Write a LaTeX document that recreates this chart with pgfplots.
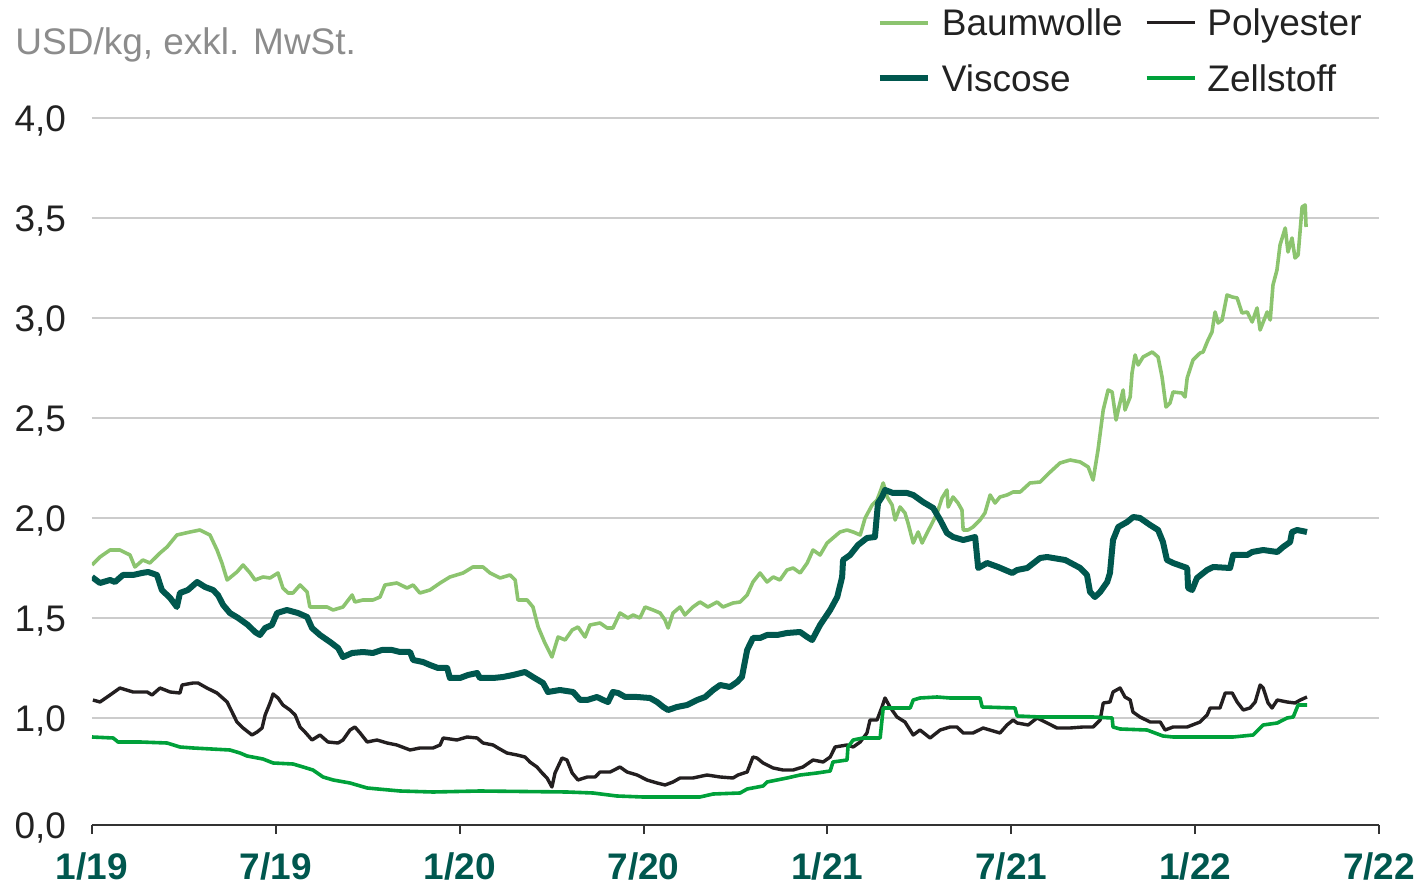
\documentclass[border=0pt]{standalone}
\usepackage{pgfplots}
\pgfplotsset{compat=1.18}
\usepackage{fontspec}
\setmainfont{Liberation Sans}
\usetikzlibrary{calc}
\definecolor{baum}{HTML}{8CC46F}
\definecolor{visc}{HTML}{00574E}
\definecolor{poly}{HTML}{231F20}
\definecolor{zell}{HTML}{00A13A}
\definecolor{gridgray}{HTML}{CCCCCC}
\definecolor{axgray}{HTML}{333333}
\definecolor{titlegray}{HTML}{8C8C8C}
\definecolor{labgray}{HTML}{222222}

\pgfplotstableread{
x y
0 1.765
0.26 1.805
0.59 1.84
0.91 1.84
1.24 1.815
1.40 1.755
1.66 1.79
1.89 1.775
2.22 1.825
2.45 1.855
2.77 1.915
3.20 1.93
3.52 1.94
3.85 1.915
4.08 1.84
4.24 1.775
4.41 1.69
4.73 1.73
4.93 1.765
5.16 1.725
5.32 1.69
5.58 1.705
5.81 1.70
6.07 1.725
6.23 1.65
6.40 1.625
6.56 1.625
6.79 1.665
7.02 1.63
7.11 1.555
7.44 1.555
7.67 1.555
7.87 1.54
8.19 1.555
8.49 1.615
8.58 1.58
8.84 1.59
9.17 1.59
9.40 1.605
9.56 1.665
9.95 1.675
10.28 1.65
10.48 1.665
10.70 1.625
11.03 1.64
11.36 1.675
11.68 1.705
12.11 1.725
12.43 1.755
12.76 1.755
12.99 1.725
13.32 1.70
13.64 1.715
13.81 1.69
13.90 1.59
14.20 1.59
14.39 1.555
14.56 1.455
14.78 1.375
15.01 1.305
15.21 1.405
15.44 1.39
15.67 1.44
15.86 1.455
16.09 1.405
16.25 1.465
16.58 1.475
16.81 1.45
17.00 1.45
17.23 1.525
17.49 1.50
17.66 1.515
17.88 1.50
18.05 1.555
18.31 1.54
18.54 1.525
18.70 1.49
18.80 1.45
18.96 1.525
19.19 1.555
19.35 1.515
19.61 1.555
19.84 1.58
20.10 1.555
20.40 1.58
20.59 1.555
20.92 1.575
21.15 1.58
21.38 1.615
21.57 1.68
21.80 1.725
22.03 1.68
22.23 1.705
22.45 1.69
22.68 1.74
22.88 1.75
23.11 1.725
23.34 1.775
23.53 1.84
23.76 1.815
23.99 1.875
24.18 1.90
24.41 1.93
24.64 1.94
24.84 1.93
25.07 1.915
25.23 2.00
25.46 2.065
25.62 2.09
25.72 2.13
25.82 2.175
25.95 2.105
26.11 2.065
26.21 1.99
26.37 2.055
26.53 2.025
26.63 1.975
26.80 1.875
26.96 1.93
27.09 1.875
27.25 1.925
27.42 1.975
27.58 2.025
27.74 2.10
27.90 2.14
27.94 2.055
28.10 2.105
28.26 2.075
28.39 2.04
28.43 1.94
28.59 1.94
28.75 1.955
28.98 1.99
29.14 2.025
29.31 2.115
29.47 2.075
29.63 2.105
29.86 2.115
30.06 2.13
30.29 2.13
30.61 2.175
30.94 2.18
31.27 2.23
31.59 2.275
31.92 2.29
32.25 2.28
32.51 2.255
32.67 2.19
32.83 2.34
33.00 2.54
33.16 2.64
33.29 2.63
33.42 2.49
33.49 2.54
33.65 2.64
33.71 2.54
33.88 2.605
33.94 2.725
34.04 2.815
34.14 2.765
34.30 2.805
34.60 2.83
34.79 2.805
34.92 2.705
35.05 2.555
35.18 2.575
35.28 2.63
35.57 2.625
35.67 2.605
35.74 2.70
35.93 2.79
36.16 2.825
36.26 2.83
36.42 2.89
36.55 2.93
36.65 3.03
36.75 2.975
36.88 2.99
37.04 3.115
37.21 3.105
37.37 3.10
37.53 3.025
37.70 3.03
37.86 2.98
38.02 3.05
38.12 2.94
38.35 3.03
38.45 2.99
38.54 3.165
38.67 3.24
38.77 3.365
38.94 3.45
39.03 3.33
39.16 3.40
39.26 3.30
39.36 3.315
39.49 3.555
39.59 3.565
39.62 3.455
}\baumwolle

\pgfplotstableread{
x y
0 1.705
0.26 1.675
0.59 1.69
0.75 1.68
1.01 1.715
1.34 1.715
1.63 1.725
1.83 1.73
2.12 1.715
2.28 1.64
2.55 1.60
2.77 1.555
2.87 1.625
3.13 1.64
3.43 1.68
3.69 1.655
3.95 1.64
4.11 1.615
4.28 1.565
4.50 1.525
4.77 1.50
5.09 1.465
5.32 1.43
5.48 1.415
5.65 1.45
5.87 1.465
6.04 1.525
6.36 1.54
6.72 1.525
7.02 1.505
7.18 1.45
7.44 1.415
7.77 1.38
8.03 1.35
8.19 1.305
8.49 1.325
8.84 1.33
9.17 1.325
9.46 1.34
9.79 1.34
10.05 1.33
10.38 1.33
10.48 1.29
10.80 1.28
11.03 1.265
11.29 1.25
11.59 1.25
11.68 1.20
12.01 1.20
12.27 1.215
12.57 1.225
12.66 1.20
13.09 1.20
13.41 1.205
13.74 1.215
14.13 1.23
14.39 1.205
14.72 1.175
14.88 1.13
15.27 1.14
15.70 1.13
15.93 1.09
16.16 1.09
16.48 1.105
16.68 1.09
16.84 1.08
17.00 1.13
17.17 1.125
17.40 1.105
17.79 1.105
18.21 1.10
18.44 1.08
18.64 1.055
18.80 1.04
19.09 1.055
19.42 1.065
19.75 1.09
20.01 1.105
20.27 1.14
20.50 1.165
20.82 1.155
21.05 1.18
21.21 1.205
21.38 1.34
21.57 1.40
21.80 1.40
22.03 1.415
22.36 1.415
22.68 1.425
23.11 1.43
23.34 1.405
23.50 1.39
23.76 1.465
24.09 1.54
24.32 1.605
24.48 1.705
24.51 1.79
24.74 1.815
25.00 1.865
25.29 1.90
25.55 1.905
25.65 2.075
25.78 2.105
25.88 2.14
26.14 2.125
26.60 2.125
26.80 2.115
27.12 2.08
27.45 2.05
27.68 1.99
27.90 1.925
28.10 1.905
28.43 1.89
28.82 1.905
28.92 1.75
29.21 1.775
29.57 1.755
30.03 1.725
30.19 1.74
30.52 1.75
30.94 1.80
31.17 1.805
31.76 1.79
32.25 1.75
32.47 1.715
32.57 1.63
32.73 1.605
32.90 1.63
33.13 1.68
33.22 1.725
33.32 1.89
33.49 1.955
33.78 1.98
33.98 2.005
34.20 2.00
34.53 1.965
34.79 1.94
34.95 1.88
35.08 1.79
35.28 1.775
35.74 1.75
35.77 1.65
35.90 1.64
36.06 1.70
36.39 1.74
36.59 1.755
37.14 1.75
37.24 1.815
37.70 1.815
37.86 1.83
38.22 1.84
38.68 1.83
38.87 1.855
39.10 1.88
39.16 1.93
39.33 1.94
39.65 1.93
}\viscose

\pgfplotstableread{
x y
0.03 1.09
0.26 1.08
0.59 1.115
0.91 1.15
1.34 1.13
1.80 1.13
1.96 1.115
2.22 1.15
2.55 1.13
2.87 1.125
2.94 1.165
3.30 1.175
3.46 1.175
3.75 1.15
4.08 1.125
4.41 1.08
4.57 1.03
4.73 0.98
4.93 0.95
5.22 0.915
5.39 0.93
5.55 0.95
5.65 1.015
5.81 1.075
5.91 1.12
6.07 1.10
6.23 1.065
6.46 1.04
6.63 1.015
6.79 0.955
6.95 0.93
7.18 0.89
7.44 0.915
7.70 0.88
8.03 0.875
8.19 0.89
8.42 0.94
8.58 0.955
8.75 0.925
8.98 0.88
9.30 0.89
9.63 0.875
9.95 0.865
10.38 0.84
10.70 0.85
11.13 0.85
11.36 0.865
11.46 0.90
11.91 0.89
12.24 0.905
12.57 0.90
12.76 0.875
13.09 0.865
13.25 0.85
13.54 0.825
13.87 0.815
14.13 0.805
14.29 0.78
14.52 0.755
14.69 0.725
14.85 0.70
15.01 0.655
15.11 0.725
15.34 0.80
15.50 0.79
15.67 0.725
15.86 0.69
16.16 0.705
16.42 0.705
16.58 0.73
16.91 0.73
17.23 0.755
17.46 0.73
17.79 0.715
18.11 0.69
18.44 0.675
18.70 0.665
18.96 0.68
19.19 0.70
19.61 0.70
20.07 0.715
20.50 0.705
20.92 0.70
21.08 0.715
21.38 0.73
21.57 0.805
21.70 0.80
21.90 0.775
22.23 0.75
22.55 0.74
22.88 0.74
23.20 0.755
23.53 0.79
23.86 0.78
24.09 0.805
24.25 0.855
24.64 0.865
24.84 0.855
25.07 0.88
25.29 0.925
25.39 0.99
25.62 0.99
25.78 1.055
25.88 1.10
26.04 1.055
26.27 1.005
26.53 0.98
26.80 0.915
27.02 0.94
27.35 0.90
27.68 0.94
28.00 0.955
28.23 0.955
28.43 0.925
28.75 0.925
29.08 0.95
29.63 0.925
29.86 0.965
30.06 0.99
30.19 0.975
30.55 0.965
30.84 1.00
31.17 0.975
31.49 0.95
31.92 0.95
32.34 0.955
32.67 0.955
32.90 0.99
33.00 1.075
33.22 1.08
33.32 1.13
33.55 1.15
33.71 1.105
33.88 1.09
33.97 1.03
34.20 1.005
34.53 0.98
34.86 0.98
35.02 0.94
35.28 0.955
35.74 0.955
36.16 0.98
36.39 1.015
36.49 1.05
36.81 1.05
36.98 1.125
37.21 1.125
37.37 1.08
37.57 1.04
37.79 1.05
37.96 1.08
38.12 1.165
38.22 1.15
38.38 1.075
38.51 1.05
38.68 1.09
39.00 1.08
39.26 1.075
39.43 1.09
39.65 1.105
}\polyester

\pgfplotstableread{
x y
0 0.905
0.69 0.90
0.85 0.88
1.57 0.88
2.45 0.875
2.87 0.855
3.30 0.85
4.50 0.84
4.83 0.825
5.06 0.81
5.58 0.795
5.91 0.775
6.56 0.77
6.89 0.755
7.21 0.74
7.54 0.705
7.87 0.69
8.42 0.675
8.98 0.65
10.05 0.635
11.13 0.63
12.66 0.635
15.50 0.63
16.35 0.625
17.13 0.61
17.98 0.605
19.84 0.605
20.27 0.62
21.15 0.625
21.38 0.645
21.90 0.66
22.03 0.68
22.68 0.70
23.11 0.715
23.66 0.725
24.09 0.735
24.18 0.78
24.64 0.79
24.67 0.855
24.84 0.89
25.16 0.90
25.72 0.90
25.82 1.05
26.14 1.05
26.70 1.05
26.80 1.09
27.02 1.10
27.58 1.105
28.00 1.10
28.98 1.10
29.05 1.055
30.12 1.05
30.19 1.01
30.94 1.005
32.67 1.005
33.29 1.00
33.32 0.955
33.55 0.945
34.43 0.94
34.95 0.91
35.28 0.905
37.24 0.905
37.89 0.915
38.22 0.965
38.68 0.975
39.00 1.00
39.20 1.005
39.36 1.065
39.65 1.065
}\zellstoff

\begin{document}
\begin{tikzpicture}
\useasboundingbox (-46bp,-30bp) rectangle (664bp,412.5bp);
\begin{axis}[
  name=ax, at={(0,0)}, anchor=south west,
  scale only axis, width=643.5bp, height=353.5bp,
  xmin=0, xmax=42, ymin=0.465, ymax=4,
  axis lines=left,
  axis line style={-},
  x axis line style={draw=axgray, line width=1bp},
  y axis line style={draw=none},
  xtick={0,6,...,42},
  xticklabels={1/19,7/19,1/20,7/20,1/21,7/21,1/22,7/22},
  ytick={0.465,1,1.5,2,2.5,3,3.5,4},
  yticklabels={{0,0},{1,0},{1,5},{2,0},{2,5},{3,0},{3,5},{4,0}},
  tick align=outside,
  major tick length=4.5bp,
  xtick style={draw=axgray, line width=1bp},
  ytick style={draw=none},
  ymajorgrids,
  grid style={draw=gridgray, line width=0.75bp},
  xticklabel style={font=\fontsize{18.5bp}{22bp}\selectfont\bfseries, text=visc, anchor=base, inner sep=0pt, yshift=-22.5bp},
  yticklabel style={font=\fontsize{18.5bp}{22bp}\selectfont, text=labgray, anchor=base east, inner sep=0pt, xshift=-8.3bp, yshift=-6.6bp},
  legend columns=2,
  legend cell align=left,
  legend style={at={(axis description cs:0.6095,1.0955)}, anchor=west, draw=none, fill=none,
    inner sep=0pt, font=\fontsize{18.5bp}{22bp}\selectfont, text=labgray,
    row sep=14.5bp,
    nodes={inner sep=0pt, text height=13.2bp, text depth=0bp},
    /tikz/every odd column/.append style={column sep=5.5bp},
    /tikz/every even column/.append style={column sep=11bp}},
  legend image code/.code={\draw[#1] (0bp,0bp) -- (24bp,0bp);},
  line join=round,
]
\addplot[color=baum, line width=1.8bp] table {\baumwolle};
\addlegendentry{Baumwolle}
\addplot[color=poly, line width=1.7bp] table {\polyester};
\addlegendentry{Polyester}
\addplot[color=visc, line width=3bp] table {\viscose};
\addlegendentry{Viscose}
\addplot[color=zell, line width=1.8bp] table {\zellstoff};
\addlegendentry{Zellstoff}
\end{axis}
\node[anchor=base west, inner sep=0pt, text=titlegray, font=\fontsize{18.5bp}{22bp}\selectfont] at (-38.5bp,385bp) {USD/kg, exkl. MwSt.};
\end{tikzpicture}
\end{document}
